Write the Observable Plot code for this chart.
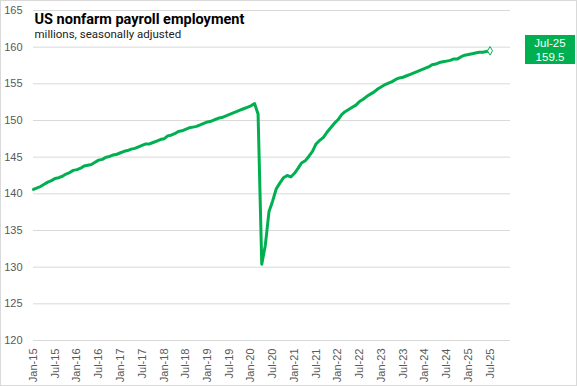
<!DOCTYPE html>
<html>
<head>
<meta charset="utf-8">
<script src="https://cdn.jsdelivr.net/npm/d3@7"></script>
<script src="https://cdn.jsdelivr.net/npm/@observablehq/plot@0.6"></script>
<style>
  html, body { margin: 0; padding: 0; background: #fff; }
  #wrap { position: relative; width: 577px; height: 386px; overflow: hidden; }
  #border { position: absolute; left: 0; top: 0; width: 577px; height: 386px; box-sizing: border-box; border: 1px solid #d9d9d9; pointer-events: none; }
  #badge { position: absolute; background: #00B050; color: #fff; font-family: "Liberation Sans", Arial, sans-serif; font-size: 11.5px; line-height: 14px; text-align: center; }
</style>
</head>
<body>
<div id="wrap"><div id="chart"></div><div id="badge"></div><div id="border"></div></div>
<script>
// ---- data (millions, seasonally adjusted), monthly from Jan-2015 ----
const startYear = 2015;
const y2015 = [140.6, 140.8, 141.0, 141.3, 141.6, 141.8, 142.1, 142.2, 142.4, 142.7, 142.9, 143.2];
const y2016 = [143.3, 143.5, 143.8, 143.9, 144.0, 144.3, 144.6, 144.7, 145.0, 145.1, 145.3, 145.4];
const y2017 = [145.6, 145.8, 145.9, 146.1, 146.2, 146.4, 146.6, 146.8, 146.8, 147.0, 147.2, 147.4];
const y2018 = [147.5, 147.9, 148.0, 148.2, 148.5, 148.6, 148.8, 149.0, 149.1, 149.2, 149.4, 149.6];
const y2019 = [149.8, 149.9, 150.1, 150.3, 150.4, 150.6, 150.8, 151.0, 151.2, 151.4, 151.6, 151.8];
const y2020 = [152.0, 152.3, 150.9, 130.4, 133.0, 137.6, 139.0, 140.7, 141.5, 142.2, 142.5, 142.3];
const y2021 = [142.8, 143.5, 144.2, 144.5, 145.1, 145.8, 146.8, 147.3, 147.7, 148.4, 149.0, 149.6];
const y2022 = [150.1, 150.8, 151.2, 151.5, 151.8, 152.1, 152.6, 152.9, 153.3, 153.6, 153.9, 154.3];
const y2023 = [154.6, 154.9, 155.1, 155.3, 155.6, 155.8, 155.9, 156.1, 156.3, 156.5, 156.7, 156.9];
const y2024 = [157.1, 157.3, 157.6, 157.7, 157.9, 158.0, 158.1, 158.2, 158.4, 158.4, 158.7, 158.9];
const y2025 = [159.0, 159.1, 159.2, 159.3, 159.3, 159.4, 159.5];

const yTicks = [120, 125, 130, 135, 140, 145, 150, 155, 160, 165];
const titleText = "US nonfarm payroll employment";
const subtitleText = "millions, seasonally adjusted";

const values = [].concat(y2015, y2016, y2017, y2018, y2019, y2020, y2021, y2022, y2023, y2024, y2025);
const data = values.map((v, i) => ({date: new Date(Date.UTC(startYear, i, 1)), value: v}));
const last = data[data.length - 1];
const fmt = d3.utcFormat("%b-%y");
const xTicks = d3.utcMonth.every(6).range(new Date(Date.UTC(2015, 0, 1)), new Date(Date.UTC(2025, 7, 1)));

const green = "#00B050";
const plot = Plot.plot({
  width: 577,
  height: 386,
  marginLeft: 33,
  marginRight: 67,
  marginTop: 10,
  marginBottom: 46,
  style: {fontFamily: "'Liberation Sans', Arial, sans-serif", fontSize: "11px", color: "#595959", background: "#fff"},
  x: {type: "utc", domain: [new Date(Date.UTC(2015, 0, 1)), new Date(Date.UTC(2025, 11, 20))], label: null},
  y: {domain: [120, 165], label: null},
  marks: [
    Plot.gridY(yTicks, {stroke: "#d9d9d9", strokeOpacity: 1}),
    Plot.axisY(yTicks, {tickSize: 0, tickPadding: 11, fill: "#595959", fontSize: 11, label: null}),
    Plot.axisX(xTicks, {tickSize: 0, tickPadding: 8, tickRotate: -90, tickFormat: fmt, fill: "#595959", fontSize: 11, label: null}),
    Plot.line(data, {x: "date", y: "value", stroke: green, strokeWidth: 3, strokeLinejoin: "round"}),
    Plot.dot([last], {x: "date", y: "value", symbol: "diamond", r: 2.6, fill: "#fff", stroke: green, strokeWidth: 1}),
    Plot.text([titleText], {frameAnchor: "top-left", dx: 1, dy: 3, text: d => d, fontSize: 14.5, fontWeight: "bold", fill: "#000", fontFamily: "Roboto, sans-serif", textAnchor: "start"}),
    Plot.text([subtitleText], {frameAnchor: "top-left", dx: 1, dy: 19, text: d => d, fontSize: 11.5, fill: "#222", fontFamily: "Roboto, sans-serif", textAnchor: "start"})
  ]
});
document.getElementById("chart").appendChild(plot);

const yPos = plot.scale("y").apply(last.value);
const badge = document.getElementById("badge");
badge.innerHTML = fmt(last.date) + "<br>" + last.value.toFixed(1);
badge.style.left = "525px";
badge.style.width = "50px";
badge.style.top = (yPos - 15) + "px";
badge.style.height = "29px";
badge.style.paddingTop = "1px";
badge.style.boxSizing = "border-box";
</script>
</body>
</html>
